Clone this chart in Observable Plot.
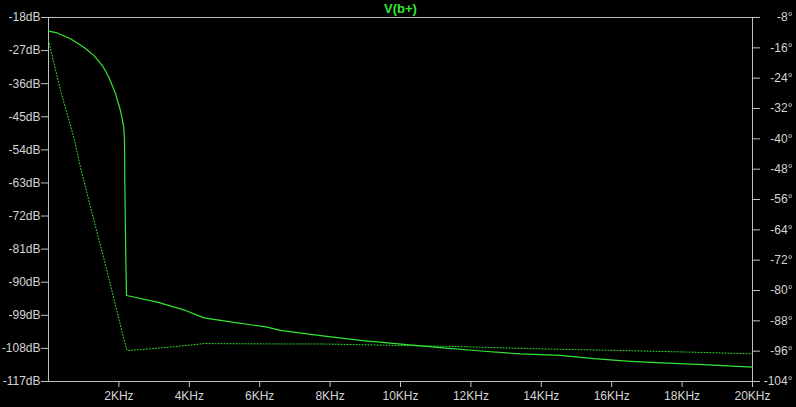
<!DOCTYPE html>
<html>
<head>
<meta charset="utf-8">
<script src="https://cdn.jsdelivr.net/npm/d3@7"></script>
<script src="https://cdn.jsdelivr.net/npm/@observablehq/plot@0.6"></script>
<style>
  html, body { margin: 0; padding: 0; background: #000; }
  #chart { width: 796px; height: 407px; }
</style>
</head>
<body>
<div id="chart"></div>
<script>
// Magnitude trace (solid), left axis in dB
const magFreq = [0, 247, 625, 1003, 1287, 1526, 1713, 1903, 2045, 2139, 2159, 2168, 2196, 2216,
  3088, 3844, 4412, 5264, 6213, 6591, 7727, 8864, 10094, 11136, 12273, 13409, 14545, 15492, 16534, 17577, 18617, 20000];
const magDb = [-21.7, -22.2, -23.8, -26.1, -28.3, -31.0, -34.2, -38.7, -43.3, -47.8, -51.4, -63.2, -83.2, -93.6,
  -95.4, -97.5, -99.7, -100.9, -102.2, -103.1, -104.5, -105.8, -106.9, -107.8, -108.7, -109.5, -109.9, -110.8, -111.5, -112.0, -112.4, -113.1];

// Phase trace (dotted), right axis in degrees
const phaseFreq = [0, 341, 719, 909, 1193, 1599, 1810, 2139, 2230, 2614, 3372, 4128, 4412, 6591, 7727, 10000, 11705, 13977, 16156, 18429, 20000];
const phaseDeg = [-14.1, -27.2, -39.6, -47.5, -58.0, -72.5, -80.4, -92.7, -95.8, -95.6, -95.0, -94.3, -94.0, -94.1, -94.1, -94.5, -94.8, -95.4, -95.8, -96.3, -96.7];

// Axis ticks
const xTicks = [2000, 4000, 6000, 8000, 10000, 12000, 14000, 16000, 18000, 20000];
const dbTicks = [-18, -27, -36, -45, -54, -63, -72, -81, -90, -99, -108, -117];
const degTicks = [-8, -16, -24, -32, -40, -48, -56, -64, -72, -80, -88, -96, -104];
const title = "V(b+)";

// map phase (deg) onto the dB scale so both share one y scale
const degToDb = d => -18 + (d + 8) * (99 / 96);
const dbToDeg = v => Math.round((v + 18) * 96 / 99 - 8);

const mag = magFreq.map((f, i) => ({f, v: magDb[i]}));
const phase = phaseFreq.map((f, i) => ({f, v: degToDb(phaseDeg[i])}));

const axisColor = "#c0c0c0";
const textColor = "#d4d4d4";
const green = "#33e633";

const chart = Plot.plot({
  width: 796,
  height: 407,
  marginTop: 17,
  marginBottom: 26,
  marginLeft: 48,
  marginRight: 44,
  style: {background: "#000", fontFamily: "'Liberation Sans', Arial, sans-serif", fontSize: "12px"},
  x: {domain: [0, 20000]},
  y: {domain: [-117, -18]},
  marks: [
    Plot.frame({stroke: axisColor}),
    Plot.axisX({ticks: xTicks, tickFormat: d => (d / 1000) + "KHz", tickSize: 6, tickPadding: 4,
      stroke: axisColor, fill: textColor, fontSize: 12, label: null}),
    Plot.axisY({anchor: "left", ticks: dbTicks, tickFormat: d => d + "dB", tickSize: 7, tickPadding: 1,
      stroke: axisColor, fill: textColor, fontSize: 12, label: null}),
    Plot.axisY({anchor: "right", ticks: degTicks.map(degToDb), tickFormat: v => dbToDeg(v) + "°",
      tickSize: 7, tickPadding: 33, textAnchor: "end",
      stroke: axisColor, fill: textColor, fontSize: 12, label: null}),
    Plot.line(phase, {x: "f", y: "v", stroke: green, strokeWidth: 1, strokeDasharray: "1 2"}),
    Plot.line(mag, {x: "f", y: "v", stroke: green, strokeWidth: 1.2}),
    Plot.text([title], {frameAnchor: "top", lineAnchor: "middle", dy: -9, text: d => d, fill: green, fontSize: 13, fontWeight: "bold"})
  ]
});
document.getElementById("chart").append(chart);
</script>
</body>
</html>
